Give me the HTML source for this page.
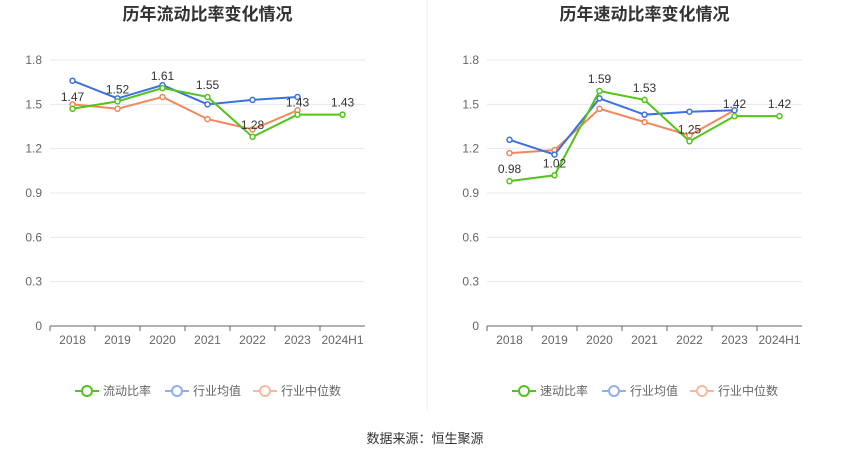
<!DOCTYPE html>
<html><head><meta charset="utf-8">
<style>
body{margin:0;background:#fff;font-family:"Liberation Sans","Noto Sans CJK SC",sans-serif;}
svg text{font-family:"Liberation Sans","Noto Sans CJK SC",sans-serif;}
</style></head>
<body>
<svg id="c" width="850" height="459" xmlns="http://www.w3.org/2000/svg">
<line x1="427" y1="0" x2="427" y2="410" stroke="#eee"/>
<text x="425" y="443" text-anchor="middle" font-size="13" fill="#333">数据来源：恒生聚源</text>
</svg>
<script>
const categories=["2018","2019","2020","2021","2022","2023","2024H1"];
const yTicks=[0,0.3,0.6,0.9,1.2,1.5,1.8];
const leftMain=[1.47,1.52,1.61,1.55,1.28,1.43,1.43];
const leftAvg=[1.66,1.54,1.63,1.50,1.53,1.55,null];
const leftMed=[1.50,1.47,1.55,1.40,1.33,1.46,null];
const rightMain=[0.98,1.02,1.59,1.53,1.25,1.42,1.42];
const rightAvg=[1.26,1.16,1.54,1.43,1.45,1.46,null];
const rightMed=[1.17,1.19,1.47,1.38,1.29,1.46,null];
const NS="http://www.w3.org/2000/svg";
const svg=document.getElementById('c');
function mk(t,a){const e=document.createElementNS(NS,t);for(const k in a)e.setAttribute(k,a[k]);return e;}
function chart(x0,x1,title,mainName,main,avg,med,key){
  const y0=326,yTop=60;
  const ys=v=>y0-(v/1.8)*(y0-yTop);
  const step=(x1-x0)/categories.length;
  const xs=i=>x0+step*(i+0.5);
  const g=mk('g',{});
  
  
  svg.appendChild(g);
  const t=mk('text',{x:(x0+x1)/2,y:20,'text-anchor':'middle','font-size':'17','font-weight':'bold',fill:'#333'});
  t.textContent=title;
  
  
  g.appendChild(t);
  yTicks.forEach(v=>{
    const y=ys(v);
    if(v>0){const l=mk('line',{x1:x0,x2:x1,y1:y,y2:y,stroke:'#e6e6ef'});
    
    
    g.appendChild(l);}
    const tx=mk('text',{x:x0-8,y:y+4,'text-anchor':'end','font-size':'12',fill:'#666'});
    tx.textContent=v===0?'0':v.toFixed(1);
    
    
    g.appendChild(tx);
  });
  const ax=mk('line',{x1:x0,x2:x1,y1:y0,y2:y0,stroke:'#666'});
  
  
  g.appendChild(ax);
  categories.forEach((c,i)=>{
    const tk=mk('line',{x1:x0+step*i,x2:x0+step*i,y1:y0,y2:y0+5,stroke:'#666'});
    
    
    g.appendChild(tk);
    const tx=mk('text',{x:xs(i),y:y0+18,'text-anchor':'middle','font-size':'12',fill:'#666'});
    tx.textContent=c;
    
    
    g.appendChild(tx);
  });
  function series(data,color,name,labels){
    const pts=[];data.forEach((v,i)=>{if(v!==null)pts.push([xs(i),ys(v),v]);});
    const p=mk('polyline',{points:pts.map(q=>q[0]+','+q[1]).join(' '),fill:'none',stroke:color,'stroke-width':'2'});
    
    
    g.appendChild(p);
    pts.forEach(q=>{
      const c=mk('circle',{cx:q[0],cy:q[1],r:2.5,fill:'#fff',stroke:color,'stroke-width':'1.5'});
      
      
      g.appendChild(c);
      if(labels){const tx=mk('text',{x:q[0],y:q[1]-8,'text-anchor':'middle','font-size':'12',fill:'#333'});
      tx.textContent=q[2].toFixed(2);
      
      
      g.appendChild(tx);}
    });
  }
  series(med,'#f5875a',key+'-industry-median',false);
  series(avg,'#3b72e0',key+'-industry-average',false);
  series(main,'#52c41a',key+'-main',true);
  const leg=[[mainName,'#52c41a',0],['行业均值','#8fb0ee',1],['行业中位数','#f9b89c',2]];
  const lx=[x0+25,x0+115,x0+203];
  leg.forEach((e,i)=>{
    const lg=mk('g',{});
    
    
    g.appendChild(lg);
    lg.appendChild(mk('line',{x1:lx[i],x2:lx[i]+24,y1:391,y2:391,stroke:e[1],'stroke-width':'2'}));
    lg.appendChild(mk('circle',{cx:lx[i]+12,cy:391,r:5,fill:'#fff',stroke:e[1],'stroke-width':'2'}));
    const tx=mk('text',{x:lx[i]+28,y:395,'font-size':'12',fill:'#666'});
    tx.textContent=e[0];lg.appendChild(tx);
  });
}
chart(50,365,'历年流动比率变化情况','流动比率',leftMain,leftAvg,leftMed,'current-ratio');
chart(487,802,'历年速动比率变化情况','速动比率',rightMain,rightAvg,rightMed,'quick-ratio');
</script>
</body></html>
